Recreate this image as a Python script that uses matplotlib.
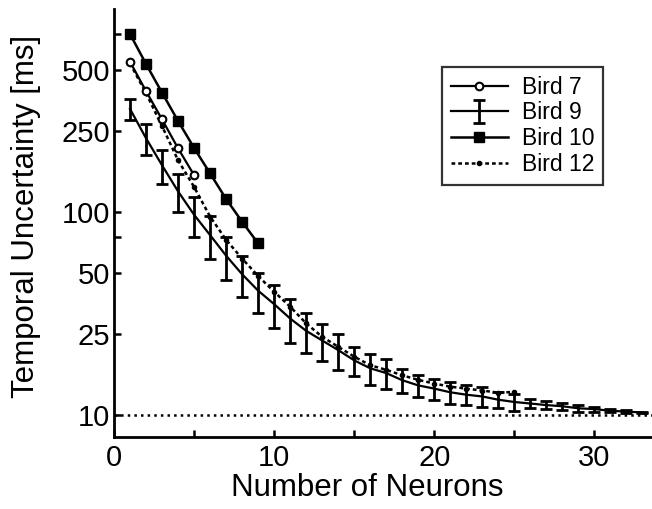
import matplotlib
matplotlib.use("Agg")
import matplotlib.pyplot as plt
from matplotlib.ticker import NullLocator

plt.rcParams["font.family"] = ["Liberation Sans", "DejaVu Sans"]

# values (temporal uncertainty in ms)
bird7_n = [1, 2, 3, 4, 5]
bird7_ms = [550, 394, 286, 206, 152]

bird9_n = list(range(1, 34))
bird9_ms = [322, 231, 170, 126.5, 97, 77, 61, 49.4, 41, 35.2,
            29.9, 26, 23.3, 20.9, 18.6, 17, 16.1, 14.85, 14, 13.5,
            12.95, 12.6, 12.35, 11.9, 11.6, 11.4, 11.2, 11.05, 10.8, 10.7,
            10.5, 10.4, 10.3]
bird9_err = [38, 40, 33, 27, 22, 18.5, 14.5, 11.3, 9.3, 8.5,
             7.2, 5.7, 4.8, 4.2, 3.1, 3, 2.7, 1.95, 1.7, 1.6,
             1.65, 1.45, 1.35, 1.1, 1.1, 0.6, 0.5, 0.45, 0.4, 0.3,
             0.2, 0.15, 0.1]

bird10_n = [1, 2, 3, 4, 5, 6, 7, 8, 9]
bird10_ms = [753, 536, 387, 281, 207, 155, 116, 89.6, 70.1]

bird12_n = list(range(1, 26))
bird12_ms = [540, 385, 265, 180, 133, 95, 73, 59, 48.4, 40.5,
             34.2, 28.3, 24.3, 21.7, 19.4, 17.6, 16.7, 15.7, 14.9, 14.3,
             13.8, 13.5, 13.2, 12.9, 13.0]

floor_ms = 10
y_ticks = [10, 25, 50, 75, 100, 250, 500, 750]
y_tick_labels = ["10", "25", "50", "", "100", "250", "500", ""]
x_ticks = [0, 5, 10, 15, 20, 25, 30]
x_tick_labels = ["0", "", "10", "", "20", "", "30"]

fig = plt.figure(figsize=(6.52, 5.09), dpi=100)
ax = fig.add_axes([0.1748, 0.1415, 0.8252, 0.8409])

ax.axhline(floor_ms, color="black", linestyle=":", linewidth=1.8, zorder=1)

h9 = ax.errorbar(bird9_n, bird9_ms, yerr=bird9_err, color="black", linewidth=1.6,
                 elinewidth=2.0, capsize=4.5, capthick=2.0, label="Bird 9", zorder=2)
h12, = ax.plot(bird12_n, bird12_ms, color="black", linestyle=(0, (1.5, 1.2)), linewidth=1.8,
               marker="o", markersize=3, label="Bird 12", zorder=3)
h7, = ax.plot(bird7_n, bird7_ms, color="black", linewidth=1.6, marker="o", markersize=5.5,
              markerfacecolor="white", markeredgewidth=1.5, label="Bird 7", zorder=4)
h10, = ax.plot(bird10_n, bird10_ms, color="black", linewidth=1.8, marker="s", markersize=7,
               label="Bird 10", zorder=4)

ax.set_yscale("log")
ax.set_ylim(7.8, 1000)
ax.set_xlim(0, 33.6)
ax.set_yticks(y_ticks)
ax.set_yticklabels(y_tick_labels)
ax.yaxis.set_minor_locator(NullLocator())
ax.set_xticks(x_ticks)
ax.set_xticklabels(x_tick_labels)

for side in ["top", "right"]:
    ax.spines[side].set_visible(False)
for side in ["left", "bottom"]:
    ax.spines[side].set_linewidth(2)

ax.tick_params(direction="in", length=5, width=1.8, labelsize=21)
ax.tick_params(axis="y", pad=3)
ax.tick_params(axis="x", pad=5)

ax.set_xlabel("Number of Neurons", fontsize=22.5)
ax.set_ylabel("Temporal Uncertainty [ms]", fontsize=22.5)
ax.xaxis.set_label_coords(0.47, -0.085)
ax.yaxis.set_label_coords(-0.135, 0.516)

leg = ax.legend(handles=[h7, h9, h10, h12], loc="upper right",
                bbox_to_anchor=(603 / 652, 1 - 67 / 509), bbox_transform=fig.transFigure,
                borderaxespad=0, fontsize=16.5, frameon=True, fancybox=False,
                handlelength=2.5, handletextpad=0.6, labelspacing=0.12, borderpad=0.38)
leg.get_frame().set_edgecolor("black")
leg.get_frame().set_linewidth(1.6)

fig.savefig("out.png", dpi=100)
